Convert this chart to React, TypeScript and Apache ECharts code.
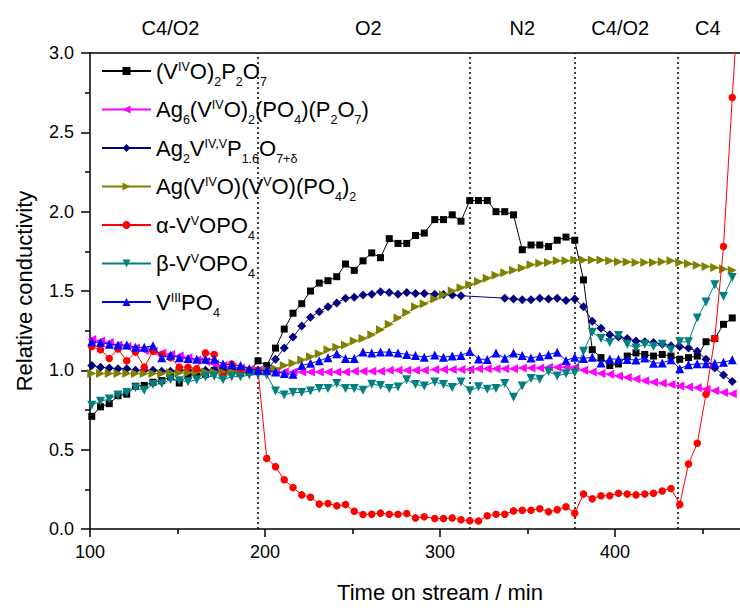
import { useEffect, useRef } from "react";
import * as echarts from "echarts";

// time on stream (min)
const time = [
  101, 106, 111, 116, 121, 126, 131, 136, 141, 146, 151, 156, 161, 166, 171, 176, 181, 186, 191, 196,
  201, 206, 211, 216, 221, 226, 231, 236, 241, 246, 251, 256, 261, 266, 271, 276, 281, 286, 291,
  297, 302, 307, 312, 317, 322, 327, 332, 337, 342, 347, 352, 357, 362, 367, 372, 377, 382, 387, 392,
  397, 402, 407, 412, 417, 422, 427, 432, 437, 442, 447, 452, 457, 462, 467, 472,
];

const vo2p2o7 = [
  0.71, 0.77, 0.79, 0.84, 0.85, 0.9, 0.905, 0.925, 0.935, 0.96,
  0.92, 0.97, 0.975, 0.975, 1.0, 0.98, 0.99, 0.98, 0.99, 1.06,
  1.03, 1.14, 1.26, 1.36, 1.42, 1.5, 1.55, 1.565, 1.59, 1.67,
  1.63, 1.69, 1.74, 1.71, 1.83, 1.8, 1.8, 1.85, 1.865, 1.95,
  1.95, 1.98, 1.94, 2.07, 2.07, 2.07, 2.0, 2.0, 1.98, 1.76,
  1.79, 1.79, 1.78, 1.82, 1.84, 1.82, 1.57, 1.13, 1.08, 1.03,
  1.04, 1.09, 1.11, 1.1, 1.09, 1.1, 1.09, 1.07, 1.08, 1.09,
  1.18, 1.2, 1.29, 1.33,
];

const ag6 = [
  1.195, 1.185, 1.175, 1.16, 1.15, 1.14, 1.125, 1.12, 1.11, 1.1,
  1.09, 1.08, 1.065, 1.055, 1.04, 1.03, 1.02, 1.015, 1.005, 1.0,
  0.995, 0.99, 0.99, 0.99, 0.99, 0.99, 0.99, 0.99, 0.99, 0.99,
  0.995, 0.995, 0.995, 0.995, 1.0, 1.0, 1.0, 1.0, 1.0, 1.005,
  1.005, 1.005, 1.005, 1.005, 1.01, 1.01, 1.01, 1.01, 1.01, 1.015,
  1.015, 1.015, 1.02, 1.02, 1.02, 1.02, 1.0, 0.99, 0.98, 0.975,
  0.965, 0.955, 0.945, 0.935, 0.925, 0.918, 0.91, 0.902, 0.895, 0.89,
  0.88, 0.871, 0.861, 0.853,
];

const ag2 = [
  1.03, 1.02, 1.015, 1.01, 1.01, 1.0, 1.0, 1.0, 0.995, 0.995,
  1.0, 1.0, 1.0, 1.0, 1.0, 1.0, 1.0, 1.0, 1.0, 1.0,
  1.0, 1.07, 1.14, 1.21, 1.28, 1.335, 1.37, 1.4, 1.425, 1.455,
  1.46, 1.475, 1.48, 1.495, 1.49, 1.48, 1.49, 1.485, 1.485, 1.48,
  1.478, 1.475, 1.47, null, null, null, null, 1.455, 1.45, 1.445,
  1.445, 1.455, 1.45, 1.455, 1.44, 1.45, 1.4, 1.31, 1.265, 1.225,
  1.21, 1.2, 1.185, 1.18, 1.175, 1.165, 1.155, 1.15, 1.14, 1.12,
  1.07, 1.015, 0.97, 0.93,
];

const agMixed = [
  0.98, 0.98, 0.98, 0.98, 0.98, 0.98, 0.98, 0.98, 0.98, 0.985,
  0.985, 0.985, 0.99, 0.99, 0.99, 0.99, 0.995, 0.995, 1.0, 1.0,
  1.0, 1.01, 1.03, 1.045, 1.065, 1.085, 1.105, 1.13, 1.145, 1.16,
  1.185, 1.2, 1.225, 1.255, 1.29, 1.33, 1.365, 1.4, 1.42, 1.45,
  1.475, 1.5, 1.52, 1.54, 1.56, 1.58, 1.6, 1.615, 1.63, 1.645,
  1.665, 1.675, 1.68, 1.69, 1.69, 1.695, 1.695, 1.695, 1.695, 1.69,
  1.685, 1.683, 1.68, 1.68, 1.68, 1.685, 1.69, 1.68, 1.672, 1.662,
  1.655, 1.648, 1.638, 1.63,
];

const alphaVOPO4 = [
  1.15, 1.13, 1.075, 1.135, 1.06, 1.115, 1.02, 1.12, 1.1, 1.08,
  1.02, 1.02, 1.01, 1.11, 1.1, 0.96, 1.04, 1.0, 1.0, 1.0,
  0.445, 0.393, 0.31, 0.261, 0.215, 0.2, 0.157, 0.16, 0.146, 0.154,
  0.112, 0.091, 0.093, 0.1, 0.093, 0.093, 0.097, 0.07, 0.077, 0.066,
  0.066, 0.07, 0.058, 0.052, 0.05, 0.083, 0.093, 0.093, 0.114, 0.118,
  0.118, 0.128, 0.108, 0.122, 0.14, 0.1, 0.22, 0.19, 0.21, 0.21,
  0.225, 0.22, 0.215, 0.22, 0.225, 0.24, 0.255, 0.155, 0.41, 0.54,
  0.85, 1.2, 1.78, 2.72, 3.6,
];

const betaVOPO4 = [
  0.78, 0.805, 0.82, 0.845, 0.86, 0.89, 0.875, 0.91, 0.917, 0.942,
  0.935, 0.928, 0.94, 0.96, 0.963, 0.94, 0.96, 0.96, 0.97, 0.973,
  0.97, 0.87, 0.845, 0.86, 0.86, 0.87, 0.885, 0.885, 0.917, 0.886,
  0.886, 0.875, 0.913, 0.905, 0.886, 0.895, 0.94, 0.911, 0.902, 0.927,
  0.911, 0.892, 0.927, 0.871, 0.896, 0.88, 0.886, 0.917, 0.83, 0.902,
  0.948, 0.944, 0.993, 0.965, 0.979, 0.985, 1.12, 1.24, 1.2, 1.175,
  1.22, 1.165, 1.14, 1.165, 1.15, 1.165, 1.13, 1.18, 1.18, 1.33,
  1.43, 1.54, 1.465, 1.585,
];

const vPO4 = [
  1.18, 1.175, 1.165, 1.16, 1.16, 1.145, 1.145, 1.155, 1.08, 1.095,
  1.08, 1.075, 1.07, 1.07, 1.07, 1.04, 1.035, 1.03, 1.01, 1.0,
  1.0, 0.99, 0.98, 0.975, 1.03, 1.045, 1.06, 1.08, 1.105, 1.075,
  1.075, 1.115, 1.11, 1.115, 1.115, 1.11, 1.1, 1.093, 1.082, 1.097,
  1.082, 1.09, 1.093, 1.118, 1.072, 1.068, 1.109, 1.076, 1.109, 1.093,
  1.078, 1.089, 1.099, 1.114, 1.062, 1.082, 1.075, 1.082, 1.047, 1.072,
  1.07, 1.068, 1.065, 1.077, 1.045, 1.047, 1.066, 1.01, 1.035, 1.041,
  1.041, 1.045, 1.051, 1.066,
];

const seriesNames = [
  "(VIVO)2P2O7",
  "Ag6(VIVO)2(PO4)(P2O7)",
  "Ag2VIV,VP1.6O7+δ",
  "Ag(VIVO)(VVO)(PO4)2",
  "α-VVOPO4",
  "β-VVOPO4",
  "VIIIPO4",
];

const legendRich = [
  "{n|(V}{sup|IV}{n|O)}{sub|2}{n|P}{sub|2}{n|O}{sub|7}",
  "{n|Ag}{sub|6}{n|(V}{sup|IV}{n|O)}{sub|2}{n|(PO}{sub|4}{n|)(P}{sub|2}{n|O}{sub|7}{n|)}",
  "{n|Ag}{sub|2}{n|V}{sup|IV,V}{n|P}{sub|1.6}{n|O}{sub|7+δ}",
  "{n|Ag(V}{sup|IV}{n|O)(V}{sup|V}{n|O)(PO}{sub|4}{n|)}{sub|2}",
  "{n|α-V}{sup|V}{n|OPO}{sub|4}",
  "{n|β-V}{sup|V}{n|OPO}{sub|4}",
  "{n|V}{sup|III}{n|PO}{sub|4}",
];

const seriesValues = [vo2p2o7, ag6, ag2, agMixed, alphaVOPO4, betaVOPO4, vPO4];
const seriesColors = ["#000000", "#ff00ff", "#000080", "#808000", "#ff0000", "#008080", "#0000ff"];
const seriesSymbols = ["rect", "triangle", "diamond", "triangle", "circle", "triangle", "triangle"];
const seriesRotate = [0, 90, 0, -90, 0, 180, 0];
const seriesSymbolSize = [7, 9, 9, 9, 7.5, 9, 9];

const phaseBoundaries = [196, 317, 377, 436];
const phaseLabels = ["C4/O2", "O2", "N2", "C4/O2", "C4"];
const phaseLabelX = [146, 259, 347, 403, 453];

const FONT = "'Liberation Sans', Arial, Helvetica, sans-serif";

export default function App() {
  const ref = useRef<HTMLDivElement>(null);

  useEffect(() => {
    if (!ref.current) return;
    const chart = echarts.init(ref.current, null, { renderer: "svg" });
    const richMap: Record<string, string> = {};
    seriesNames.forEach((n, i) => (richMap[n] = legendRich[i]));

    const series: any[] = seriesNames.map((name, i) => ({
      name,
      type: "line",
      data: seriesValues[i].map((v, k) => [time[k], v]),
      connectNulls: true,
      symbol: seriesSymbols[i],
      symbolRotate: seriesRotate[i],
      symbolSize: seriesSymbolSize[i],
      showAllSymbol: true,
      clip: true,
      color: seriesColors[i],
      itemStyle: { color: seriesColors[i] },
      lineStyle: { color: seriesColors[i], width: 1 },
      emphasis: { disabled: true },
      z: 3 + i,
    }));
    series[0].markLine = {
      silent: true,
      symbol: ["none", "none"],
      label: { show: false },
      lineStyle: { color: "#000", type: [2, 3], width: 1.5 },
      emphasis: { disabled: true },
      data: phaseBoundaries.map((b) => ({ xAxis: b })),
    };

    const axisLineStyle = { color: "#000", width: 1.5 };

    chart.setOption({
      animation: false,
      textStyle: { fontFamily: FONT, color: "#000" },
      grid: { left: 90, right: 0, top: 53, bottom: 72, containLabel: false },
      xAxis: [
        {
          type: "value",
          position: "bottom",
          min: 100,
          max: 500,
          interval: 100,
          axisLine: { show: true, onZero: false, lineStyle: axisLineStyle },
          axisTick: { show: true, length: 8, lineStyle: axisLineStyle },
          minorTick: { show: true, splitNumber: 2, length: 5, lineStyle: axisLineStyle },
          splitLine: { show: false },
          axisLabel: {
            color: "#000",
            fontSize: 18,
            fontFamily: FONT,
            margin: 14,
            formatter: (v: number) => (v > 450 ? "" : String(v)),
          },
          name: "Time on stream / min",
          nameLocation: "middle",
          nameGap: 52,
          nameTextStyle: { fontSize: 22, fontFamily: FONT, color: "#000" },
        },
        {
          type: "value",
          position: "top",
          min: 100,
          max: 500,
          interval: 100,
          axisLine: { show: true, onZero: false, lineStyle: axisLineStyle },
          axisTick: { show: false },
          axisLabel: { show: false },
          splitLine: { show: false },
        },
      ],
      yAxis: {
        type: "value",
        min: 0,
        max: 3,
        interval: 0.5,
        axisLine: { show: true, onZero: false, lineStyle: axisLineStyle },
        axisTick: { show: true, length: 9, lineStyle: axisLineStyle },
        minorTick: { show: true, splitNumber: 2, length: 5, lineStyle: axisLineStyle },
        splitLine: { show: false },
        axisLabel: {
          color: "#000",
          fontSize: 18,
          fontFamily: FONT,
          margin: 16,
          formatter: (v: number) => v.toFixed(1),
        },
        name: "Relative conductivity",
        nameLocation: "middle",
        nameGap: 55,
        nameTextStyle: { fontSize: 22, fontFamily: FONT, color: "#000" },
      },
      legend: {
        orient: "vertical",
        left: 101,
        top: 54,
        padding: 0,
        itemWidth: 49,
        itemHeight: 10,
        itemGap: 4.5,
        data: seriesNames,
        formatter: (name: string) => richMap[name],
        textStyle: {
          fontFamily: FONT,
          color: "#000",
          rich: {
            n: { fontSize: 22, fontFamily: FONT, color: "#000", lineHeight: 34, verticalAlign: "middle" },
            sup: { fontSize: 12.5, fontFamily: FONT, color: "#000", lineHeight: 34, verticalAlign: "top", padding: [6, 0, 0, 0] },
            sub: { fontSize: 12.5, fontFamily: FONT, color: "#000", lineHeight: 34, verticalAlign: "bottom", padding: [0, 0, 0, 0] },
          },
        },
      },
      series,
    });

    const labels = phaseLabels.map((t, i) => {
      const p = chart.convertToPixel({ gridIndex: 0 }, [phaseLabelX[i], 3]) as number[];
      return {
        type: "text",
        x: p[0],
        y: 28,
        style: {
          text: t,
          fontSize: 20,
          fontFamily: FONT,
          fill: "#000",
          textAlign: "center",
          textVerticalAlign: "middle",
        },
      };
    });
    chart.setOption({ graphic: labels });

    return () => chart.dispose();
  }, []);

  return (
    <div
      style={{
        position: "fixed",
        left: 0,
        top: 0,
        width: 740,
        height: 608,
        overflow: "hidden",
        background: "#fff",
      }}
    >
      <div ref={ref} style={{ width: 793, height: 608 }} />
    </div>
  );
}
